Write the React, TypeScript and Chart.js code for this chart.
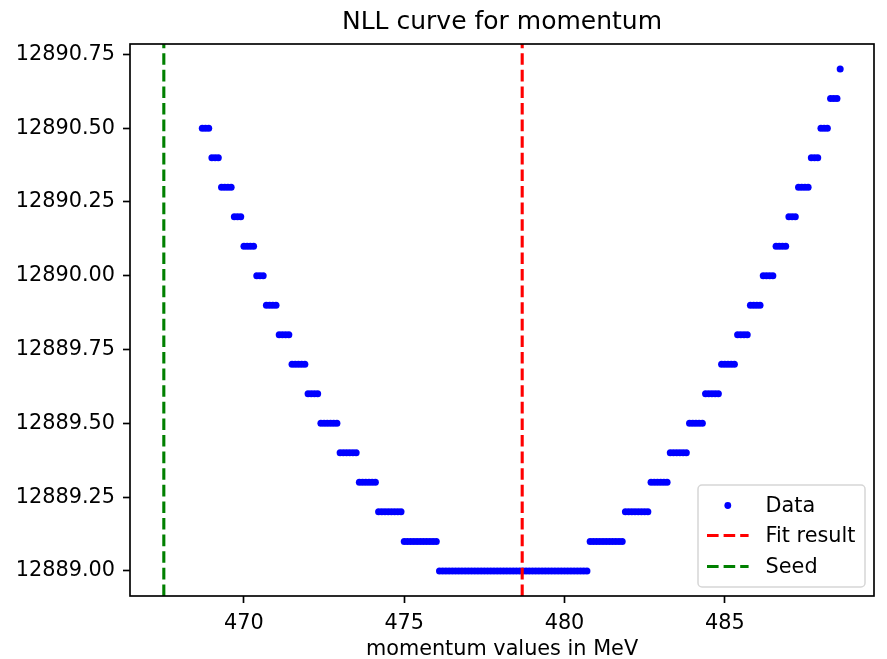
import React, { useEffect, useRef } from "react";
import { Chart, registerables } from "chart.js";

Chart.register(...registerables);

// NLL level of each horizontal run of points (left branch, bottom, right branch)
const nllLevels = [
  12890.5, 12890.4, 12890.3, 12890.2, 12890.1, 12890.0, 12889.9, 12889.8,
  12889.7, 12889.6, 12889.5, 12889.4, 12889.3, 12889.2, 12889.1, 12889.0,
  12889.1, 12889.2, 12889.3, 12889.4, 12889.5, 12889.6, 12889.7, 12889.8,
  12889.9, 12890.0, 12890.1, 12890.2, 12890.3, 12890.4, 12890.5, 12890.6,
  12890.7,
];

// momentum values (MeV) of the points in each run
const momentumByLevel = [
  [468.7, 468.8, 468.9],
  [469.0, 469.1, 469.2],
  [469.3, 469.4, 469.5, 469.6],
  [469.7, 469.8, 469.9],
  [470.0, 470.1, 470.2, 470.3],
  [470.4, 470.5, 470.6],
  [470.7, 470.8, 470.9, 471.0],
  [471.1, 471.2, 471.3, 471.4],
  [471.5, 471.6, 471.7, 471.8, 471.9],
  [472.0, 472.1, 472.2, 472.3],
  [472.4, 472.5, 472.6, 472.7, 472.8, 472.9],
  [473.0, 473.1, 473.2, 473.3, 473.4, 473.5],
  [473.6, 473.7, 473.8, 473.9, 474.0, 474.1],
  [474.2, 474.3, 474.4, 474.5, 474.6, 474.7, 474.8, 474.9],
  [475.0, 475.1, 475.2, 475.3, 475.4, 475.5, 475.6, 475.7, 475.8, 475.9, 476.0],
  [
    476.1, 476.2, 476.3, 476.4, 476.5, 476.6, 476.7, 476.8, 476.9, 477.0,
    477.1, 477.2, 477.3, 477.4, 477.5, 477.6, 477.7, 477.8, 477.9, 478.0,
    478.1, 478.2, 478.3, 478.4, 478.5, 478.6, 478.7, 478.8, 478.9, 479.0,
    479.1, 479.2, 479.3, 479.4, 479.5, 479.6, 479.7, 479.8, 479.9, 480.0,
    480.1, 480.2, 480.3, 480.4, 480.5, 480.6, 480.7,
  ],
  [480.8, 480.9, 481.0, 481.1, 481.2, 481.3, 481.4, 481.5, 481.6, 481.7, 481.8],
  [481.9, 482.0, 482.1, 482.2, 482.3, 482.4, 482.5, 482.6],
  [482.7, 482.8, 482.9, 483.0, 483.1, 483.2],
  [483.3, 483.4, 483.5, 483.6, 483.7, 483.8],
  [483.9, 484.0, 484.1, 484.2, 484.3],
  [484.4, 484.5, 484.6, 484.7, 484.8],
  [484.9, 485.0, 485.1, 485.2, 485.3],
  [485.4, 485.5, 485.6, 485.7],
  [485.8, 485.9, 486.0, 486.1],
  [486.2, 486.3, 486.4, 486.5],
  [486.6, 486.7, 486.8, 486.9],
  [487.0, 487.1, 487.2],
  [487.3, 487.4, 487.5, 487.6],
  [487.7, 487.8, 487.9],
  [488.0, 488.1, 488.2],
  [488.3, 488.4, 488.5],
  [488.6],
];

const fitResult = 478.68;
const seedValue = 467.5;

const xTickValues = [470, 475, 480, 485];
const yTickValues = [
  12889.0, 12889.25, 12889.5, 12889.75, 12890.0, 12890.25, 12890.5, 12890.75,
];

const titleText = "NLL curve for momentum";
const xLabelText = "momentum values in MeV";
const legendLabels = ["Data", "Fit result", "Seed"];

const FONT = "'DejaVu Sans', 'Liberation Sans', sans-serif";

export default function App() {
  const ref = useRef<HTMLCanvasElement | null>(null);

  useEffect(() => {
    const canvas = ref.current;
    if (!canvas) return;

    const points: { x: number; y: number }[] = [];
    nllLevels.forEach((y, i) => {
      momentumByLevel[i].forEach((x) => points.push({ x, y }));
    });

    const yMin = 12888.915;
    const yMax = 12890.785;
    const xMin = 466.445;
    const xMax = 489.655;

    const decor = {
      id: "decor",
      afterDraw(chart: any) {
        const { ctx, chartArea: a } = chart;
        ctx.save();
        // frame (spines)
        ctx.strokeStyle = "#000";
        ctx.lineWidth = 1.67;
        ctx.strokeRect(a.left, a.top, a.right - a.left, a.bottom - a.top);

        // title & x label
        ctx.fillStyle = "#000";
        ctx.textAlign = "center";
        ctx.textBaseline = "alphabetic";
        ctx.font = `25px ${FONT}`;
        ctx.fillText(titleText, (a.left + a.right) / 2, 29);
        ctx.font = `20.8px ${FONT}`;
        ctx.fillText(xLabelText, (a.left + a.right) / 2, 655);

        // legend
        const bw = 167;
        const bh = 102;
        const bx = a.right - 9 - bw;
        const by = a.bottom - 9 - bh;
        ctx.beginPath();
        (ctx as any).roundRect(bx, by, bw, bh, 4);
        ctx.fillStyle = "rgba(255,255,255,0.8)";
        ctx.fill();
        ctx.strokeStyle = "rgba(204,204,204,0.8)";
        ctx.lineWidth = 1.5;
        ctx.stroke();

        const hx0 = bx + 9;
        const hx1 = hx0 + 41.6;
        const tx = hx1 + 17;
        const rows = [by + 20.5, by + 50.5, by + 81.5];

        // Data marker
        ctx.fillStyle = "#0000ff";
        ctx.beginPath();
        ctx.arc((hx0 + hx1) / 2, rows[0], 3.4, 0, Math.PI * 2);
        ctx.fill();

        // dashed handles
        const colors = ["#ff0000", "#008000"];
        ctx.lineWidth = 3.1;
        ctx.setLineDash([11.6, 5]);
        colors.forEach((c, i) => {
          ctx.strokeStyle = c;
          ctx.beginPath();
          ctx.moveTo(hx0, rows[i + 1]);
          ctx.lineTo(hx1, rows[i + 1]);
          ctx.stroke();
        });
        ctx.setLineDash([]);

        ctx.fillStyle = "#000";
        ctx.textAlign = "left";
        ctx.textBaseline = "middle";
        ctx.font = `20.8px ${FONT}`;
        legendLabels.forEach((t, i) => ctx.fillText(t, tx, rows[i] + 1));
        ctx.restore();
      },
    };

    const tickFont = { family: FONT, size: 20.8 };

    const chart = new Chart(canvas, {
      type: "scatter",
      data: {
        datasets: [
          {
            label: "Fit result",
            data: [
              { x: fitResult, y: yMin },
              { x: fitResult, y: yMax },
            ],
            showLine: true,
            borderColor: "#ff0000",
            borderWidth: 3.1,
            borderDash: [11.6, 5],
            pointRadius: 0,
            order: 1,
          },
          {
            label: "Seed",
            data: [
              { x: seedValue, y: yMin },
              { x: seedValue, y: yMax },
            ],
            showLine: true,
            borderColor: "#008000",
            borderWidth: 3.1,
            borderDash: [11.6, 5],
            pointRadius: 0,
            order: 2,
          },
          {
            label: "Data",
            data: points,
            backgroundColor: "#0000ff",
            borderWidth: 0,
            pointRadius: 3.5,
            order: 3,
          },
        ],
      },
      options: {
        responsive: false,
        animation: false,
        events: [],
        layout: { padding: { left: 0, right: 13, top: 44, bottom: 0 } },
        plugins: {
          legend: { display: false },
          title: { display: false },
          tooltip: { enabled: false },
        },
        scales: {
          x: {
            type: "linear",
            min: xMin,
            max: xMax,
            afterBuildTicks: (s: any) => {
              s.ticks = xTickValues.map((v) => ({ value: v }));
            },
            afterFit: (s: any) => {
              s.height = 63;
            },
            ticks: {
              font: tickFont,
              color: "#000",
              padding: 8,
              maxRotation: 0,
              autoSkip: false,
              callback: (v: any) => String(v),
            },
            grid: {
              drawOnChartArea: false,
              drawTicks: true,
              tickLength: 7,
              tickWidth: 1.67,
              tickColor: "#000",
            },
            border: { display: false },
          },
          y: {
            type: "linear",
            min: yMin,
            max: yMax,
            afterBuildTicks: (s: any) => {
              s.ticks = yTickValues.map((v) => ({ value: v }));
            },
            afterFit: (s: any) => {
              s.width = 130;
            },
            ticks: {
              font: tickFont,
              color: "#000",
              padding: 8,
              autoSkip: false,
              callback: (v: any) => Number(v).toFixed(2),
            },
            grid: {
              drawOnChartArea: false,
              drawTicks: true,
              tickLength: 7,
              tickWidth: 1.67,
              tickColor: "#000",
            },
            border: { display: false },
          },
        },
      },
      plugins: [decor],
    } as any);

    return () => chart.destroy();
  }, []);

  return (
    <div
      style={{
        position: "fixed",
        left: 0,
        top: 0,
        width: 887,
        height: 659,
        background: "#fff",
      }}
    >
      <canvas ref={ref} width={887} height={659} style={{ width: 887, height: 659 }} />
    </div>
  );
}
